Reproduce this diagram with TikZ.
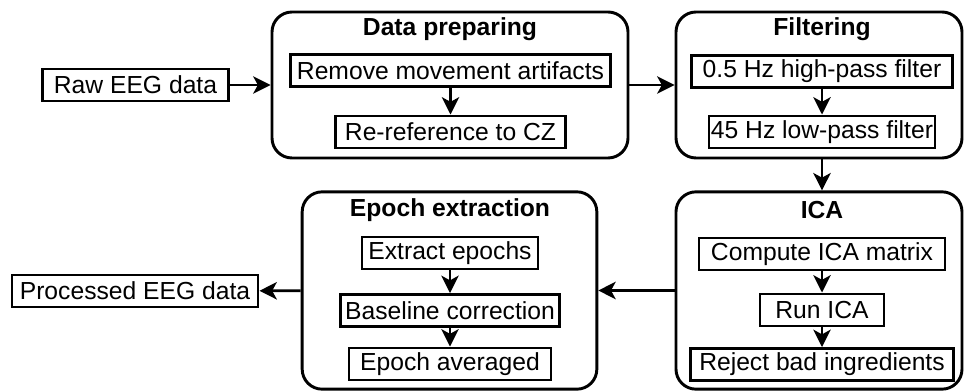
\documentclass[tikz,border=0pt]{standalone}
\usepackage{fontspec}
\setmainfont{Liberation Sans}
\usetikzlibrary{positioning,arrows.meta}

\begin{document}
\begin{tikzpicture}[
  x=0.75pt, y=-0.75pt,
  every node/.style={font=\fontsize{18.5}{22}\selectfont},
  stepbox/.style={rectangle, draw, line width=2.2pt, minimum height=24pt, inner sep=0pt},
  group/.style={rectangle, draw, line width=2.2pt, rounded corners=15pt, inner sep=0pt},
  gtitle/.style={font=\fontsize{18.5}{22}\selectfont\bfseries, inner sep=0pt},
  arr/.style={-{Stealth[length=13pt, width=13pt, inset=3.5pt]}, line width=2.2pt}
]
\useasboundingbox (0,0) rectangle (964,392);

% input and output
\node[stepbox, minimum width=140pt] (raw) at (135.5,85) {Raw EEG data};
\node[stepbox, minimum width=184.5pt] (processed) at (135,291) {Processed EEG data};

% Data preparing
\node[group, minimum width=267pt, minimum height=109.5pt] (prep) at (450,85) {};
\node[gtitle] (prepT) at (450,29) {Data preparing};
\node[stepbox, minimum width=240pt] (remove) at (450.5,70.5) {Remove movement artifacts};
\node[stepbox, minimum width=172.5pt] (reref) at (450.5,132) {Re-reference to CZ};

% Filtering
\node[group, minimum width=214.5pt, minimum height=109.5pt] (filt) at (819,85) {};
\node[gtitle] (filtT) at (822,29) {Filtering};
\node[stepbox, minimum width=196pt] (hp) at (822,71.5) {0.5 Hz high-pass filter};
\node[stepbox, minimum width=169.5pt] (lp) at (822,132) {45 Hz low-pass filter};

% ICA
\node[group, minimum width=214.5pt, minimum height=148pt] (ica) at (819,290.5) {};
\node[gtitle] (icaT) at (822,210) {ICA};
\node[stepbox, minimum width=184.5pt] (comp) at (822,254) {Compute ICA matrix};
\node[stepbox, minimum width=93pt] (run) at (822,310) {Run ICA};
\node[stepbox, minimum width=197pt] (reject) at (822,364.5) {Reject bad ingredients};

% Epoch extraction
\node[group, minimum width=221pt, minimum height=148pt] (epoch) at (449.5,290.5) {};
\node[gtitle] (epochT) at (450,210) {Epoch extraction};
\node[stepbox, minimum width=132pt] (extract) at (450,253) {Extract epochs};
\node[stepbox, minimum width=164pt] (baseline) at (450,310.5) {Baseline correction};
\node[stepbox, minimum width=151.5pt] (averaged) at (450,364) {Epoch averaged};

% flow between stages
\draw[arr] (raw) -- (prep);
\draw[arr] (prep) -- (filt);
\draw[arr] (filt.south -| hp) -- (ica.north -| hp);
\draw[arr] (ica) -- (epoch);
\draw[arr] (epoch) -- (processed);

% steps inside each stage
\draw[arr] (remove) -- (reref);
\draw[arr] (hp) -- (lp);
\draw[arr] (comp) -- (run);
\draw[arr] (run) -- (reject);
\draw[arr] (extract) -- (baseline);
\draw[arr] (baseline) -- (averaged);
\end{tikzpicture}
\end{document}
